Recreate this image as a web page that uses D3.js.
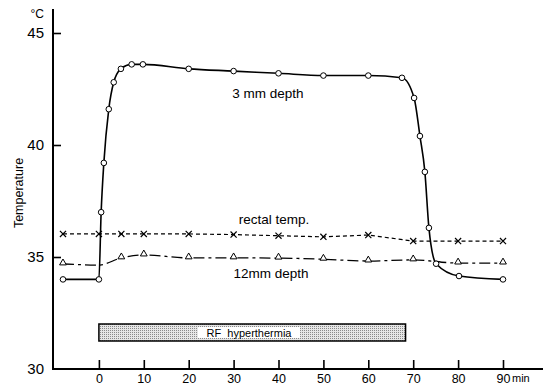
<!DOCTYPE html>
<html lang="en">
<head>
  <meta charset="UTF-8">
  <title>temperature</title>
  <script src="https://cdn.jsdelivr.net/npm/d3@7"></script>
  <style>
    body { margin: 0; background: #fff; }
    text { font-family: "Liberation Sans", Arial, sans-serif; fill: #000; }
  </style>
</head>
<body>
  <svg width="543" height="387" id="mainsvg"></svg>
  <script>
    // 3 mm depth (circles)
    const mm3Min  = [-8, 0, 0.5, 1.1, 2.2, 3.3, 4.9, 7.3, 9.8, 20, 30, 40, 50, 60, 67.5, 70.2, 71.5, 72.6, 73.5, 75.1, 80.2, 90];
    const mm3Temp = [34.0, 34.0, 37.0, 39.2, 41.6, 42.8, 43.4, 43.6, 43.6, 43.4, 43.3, 43.2, 43.1, 43.1, 43.0, 42.1, 40.4, 38.8, 36.3, 34.7, 34.15, 34.0];
    // rectal temp. (crosses)
    const rectMin  = [-8, 0, 5, 10, 20, 30, 40, 50, 60, 70, 80, 90];
    const rectTemp = [36.03, 36.03, 36.03, 36.03, 36.03, 36.0, 35.95, 35.9, 35.98, 35.71, 35.71, 35.71];
    // 12 mm depth (triangles); no marker at 0 min
    const mm12Min    = [-8, 0, 5, 10, 20, 30, 40, 50, 60, 70, 80, 90];
    const mm12Temp   = [34.69, 34.64, 34.96, 35.09, 34.96, 34.96, 34.95, 34.9, 34.82, 34.87, 34.73, 34.73];
    const mm12Marked = [true, false, true, true, true, true, true, true, true, true, true, true];

    const xTicks = [0, 10, 20, 30, 40, 50, 60, 70, 80, 90];
    const yTicks = [30, 35, 40, 45];
    const rfStart = 0, rfEnd = 68.3;

    const svg = d3.select('#mainsvg')
    const width = +svg.attr('width')

    const x = d3.scaleLinear().domain([-10, 90]).range([54, 503])
    const y = d3.scaleLinear().domain([30, 45]).range([369, 33])

    // stipple pattern for the RF bar
    const pat = svg.append('defs').append('pattern')
      .attr('id', 'stip').attr('width', 2).attr('height', 2)
      .attr('patternUnits', 'userSpaceOnUse')
    pat.append('rect').attr('width', 2).attr('height', 2).attr('fill', '#e6e6e6')
    pat.append('rect').attr('width', 1).attr('height', 1).attr('fill', '#8a8a8a')

    // y axis
    const yAxis = d3.axisLeft(y).tickValues(yTicks).tickSize(-8).tickPadding(9)
    const gy = svg.append('g').attr('transform', `translate(${x(-10) - 1},0)`).call(yAxis)
    gy.select('.domain').remove()
    gy.selectAll('.tick line').attr('stroke-width', 1.6)
    gy.selectAll('.tick text').attr('font-size', '15px').attr('font-family', '"Liberation Sans", Arial, sans-serif')
    gy.selectAll('.tick').filter(d => d === 30).select('line').remove()
    svg.append('line').attr('x1', x(-10) - 1).attr('x2', x(-10) - 1)
      .attr('y1', y(30) + 1).attr('y2', 9).attr('stroke', '#000').attr('stroke-width', 2)

    // x axis
    const xAxis = d3.axisBottom(x).tickValues(xTicks).tickSize(-9).tickPadding(5)
    const gx = svg.append('g').attr('transform', `translate(0,${y(30)})`).call(xAxis)
    gx.select('.domain').remove()
    gx.selectAll('.tick line').attr('stroke-width', 1.6)
    gx.selectAll('.tick text').attr('font-size', '12.5px').attr('font-family', '"Liberation Sans", Arial, sans-serif')
    svg.append('line').attr('x1', x(-10) - 2).attr('x2', width)
      .attr('y1', y(30)).attr('y2', y(30)).attr('stroke', '#000').attr('stroke-width', 2)

    svg.append('text').text('min').attr('x', 512).attr('y', 382).attr('font-size', '11px')
    svg.append('text').text('°C').attr('x', 44).attr('y', 18).attr('text-anchor', 'end').attr('font-size', '12px')
    svg.append('text').text('Temperature').attr('font-size', '12.5px').attr('text-anchor', 'middle')
      .attr('transform', `translate(23,193) rotate(-90)`)

    const smooth = d3.line().x(d => x(d[0])).y(d => y(d[1])).curve(d3.curveMonotoneX)
    const straight = d3.line().x(d => x(d[0])).y(d => y(d[1]))
    const zip = (a, b) => a.map((v, i) => [v, b[i]])

    const rect = zip(rectMin, rectTemp)
    const mm12 = zip(mm12Min, mm12Temp)
    const mm3 = zip(mm3Min, mm3Temp)

    svg.append('path').datum(rect).attr('d', straight).attr('fill', 'none')
      .attr('stroke', '#000').attr('stroke-width', 1.2).attr('stroke-dasharray', '4,3')
    svg.append('path').datum(mm12).attr('d', smooth).attr('fill', 'none')
      .attr('stroke', '#000').attr('stroke-width', 1.3).attr('stroke-dasharray', '11,4,3,4')
    svg.append('path').datum(mm3).attr('d', smooth).attr('fill', 'none')
      .attr('stroke', '#000').attr('stroke-width', 1.6)

    // markers
    svg.selectAll('.cross').data(rect).join('path').attr('class', 'cross')
      .attr('d', d3.symbol(d3.symbolTimes, 26))
      .attr('transform', d => `translate(${x(d[0])},${y(d[1])})`)
      .attr('stroke', '#000').attr('stroke-width', 1.2).attr('fill', 'none')
    svg.selectAll('.tri').data(mm12.filter((d, i) => mm12Marked[i])).join('path').attr('class', 'tri')
      .attr('d', d3.symbol(d3.symbolTriangle, 20))
      .attr('transform', d => `translate(${x(d[0])},${y(d[1]) - 1})`)
      .attr('stroke', '#000').attr('stroke-width', 1).attr('fill', '#fff')
    svg.selectAll('.circ').data(mm3).join('circle').attr('class', 'circ')
      .attr('cx', d => x(d[0])).attr('cy', d => y(d[1])).attr('r', 2.8)
      .attr('stroke', '#000').attr('stroke-width', 1).attr('fill', '#fff')

    // series labels
    svg.append('text').text('3 mm depth').attr('x', 268).attr('y', 98).attr('text-anchor', 'middle').attr('font-size', '13.5px')
    svg.append('text').text('rectal temp.').attr('x', 274).attr('y', 224).attr('text-anchor', 'middle').attr('font-size', '13.5px')
    svg.append('text').text('12mm depth').attr('x', 271).attr('y', 278).attr('text-anchor', 'middle').attr('font-size', '13.5px')

    // RF hyperthermia bar
    svg.append('rect').attr('x', x(rfStart)).attr('y', 324)
      .attr('width', x(rfEnd) - x(rfStart)).attr('height', 17)
      .attr('fill', 'url(#stip)').attr('stroke', '#000').attr('stroke-width', 1.5)
    svg.append('rect').attr('x', 198).attr('y', 327).attr('width', 102).attr('height', 11).attr('fill', '#fff')
    svg.append('text').text('RF  hyperthermia').attr('x', 249).attr('y', 336.5)
      .attr('text-anchor', 'middle').attr('font-size', '11px').attr('xml:space', 'preserve')
      .style('white-space', 'pre')
  </script>
</body>
</html>
